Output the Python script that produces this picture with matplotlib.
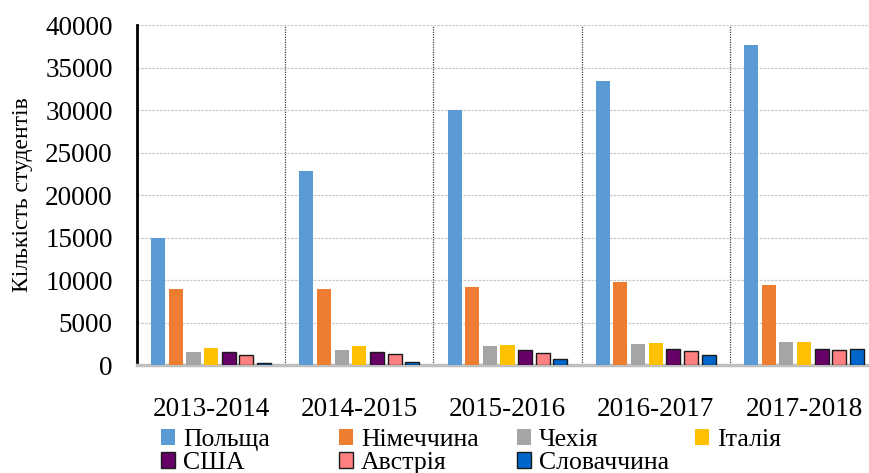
import numpy as np
import matplotlib.pyplot as plt
from matplotlib.patches import Patch

plt.rcParams['font.family'] = ['Liberation Serif', 'DejaVu Serif']

# Дані
roky = ['2013-2014', '2014-2015', '2015-2016', '2016-2017', '2017-2018']
krainy = ['Польща', 'Німеччина', 'Чехія', 'Італія', 'США', 'Австрія', 'Словаччина']
polshcha = [15000, 22800, 30000, 33400, 37600]
nimechchyna = [8900, 8950, 9150, 9750, 9400]
chekhiia = [1550, 1750, 2250, 2450, 2700]
italiia = [2000, 2250, 2350, 2550, 2700]
ssha = [1500, 1600, 1750, 1900, 1900]
avstriia = [1200, 1350, 1450, 1650, 1750]
slovachchyna = [200, 430, 700, 1200, 1900]

serii = [polshcha, nimechchyna, chekhiia, italiia, ssha, avstriia, slovachchyna]
kolory = ['#5B9BD5', '#ED7D31', '#A5A5A5', '#FFC000', '#660066', '#FF8080', '#0066CC']
obvidky = [False, False, False, False, True, True, True]

fig = plt.figure(figsize=(8.7, 4.73), dpi=100)
ax = fig.add_axes([0.1575, 0.228, 0.8425, 0.719])

x = np.arange(len(roky))
krok = 0.119
shyryna = 0.095
for i, (vals, kol, obv) in enumerate(zip(serii, kolory, obvidky)):
    ax.bar(x + (i - 3) * krok, vals, width=shyryna, color=kol,
           edgecolor='#1a1a1a' if obv else 'none', linewidth=1.0 if obv else 0,
           zorder=3)

ax.set_ylim(0, 40000)
ax.set_xlim(-0.5, 4.446)
ax.set_yticks(np.arange(0, 40001, 5000))
ax.yaxis.grid(True, color='#c8c8c8', linewidth=0.9, linestyle=(0, (2, 1)), zorder=0)

# вертикальні роздільники між роками
for xs in np.arange(0.5, 4.5, 1):
    ax.axvline(xs, color='#404040', linewidth=0.9, linestyle=(0, (1, 1)), zorder=1)

ax.set_xticks(x)
ax.set_xticklabels(roky)
ax.tick_params(axis='both', length=0, labelsize=19.5)
ax.tick_params(axis='x', pad=23)
ax.tick_params(axis='y', pad=17.5)

for s in ['top', 'right']:
    ax.spines[s].set_visible(False)
ax.spines['left'].set_linewidth(2)
ax.spines['left'].set_color('black')
ax.spines['bottom'].set_color('#bfbfbf')
ax.spines['bottom'].set_linewidth(2.5)

ax.set_ylabel('Кількість студентів', fontsize=17)
ax.yaxis.set_label_coords(-0.142, 0.5)

# легенда: 4 колонки з рівним кроком
handles = [Patch(facecolor=k, edgecolor='#1a1a1a' if o else 'none', linewidth=1.0 if o else 0)
           for k, o in zip(kolory, obvidky)]
kolonky = [[0, 4], [1, 5], [2, 6], [3]]
for j, idx in enumerate(kolonky):
    fig.legend([handles[i] for i in idx], [krainy[i] for i in idx],
               loc='upper left', bbox_to_anchor=((161 + 178 * j) / 870, 1 - 429 / 473),
               frameon=False, fontsize=18.5, handlelength=0.55, handleheight=0.55,
               handletextpad=0.3, labelspacing=0.05, borderpad=0, borderaxespad=0)

fig.savefig('out.png', dpi=100)
